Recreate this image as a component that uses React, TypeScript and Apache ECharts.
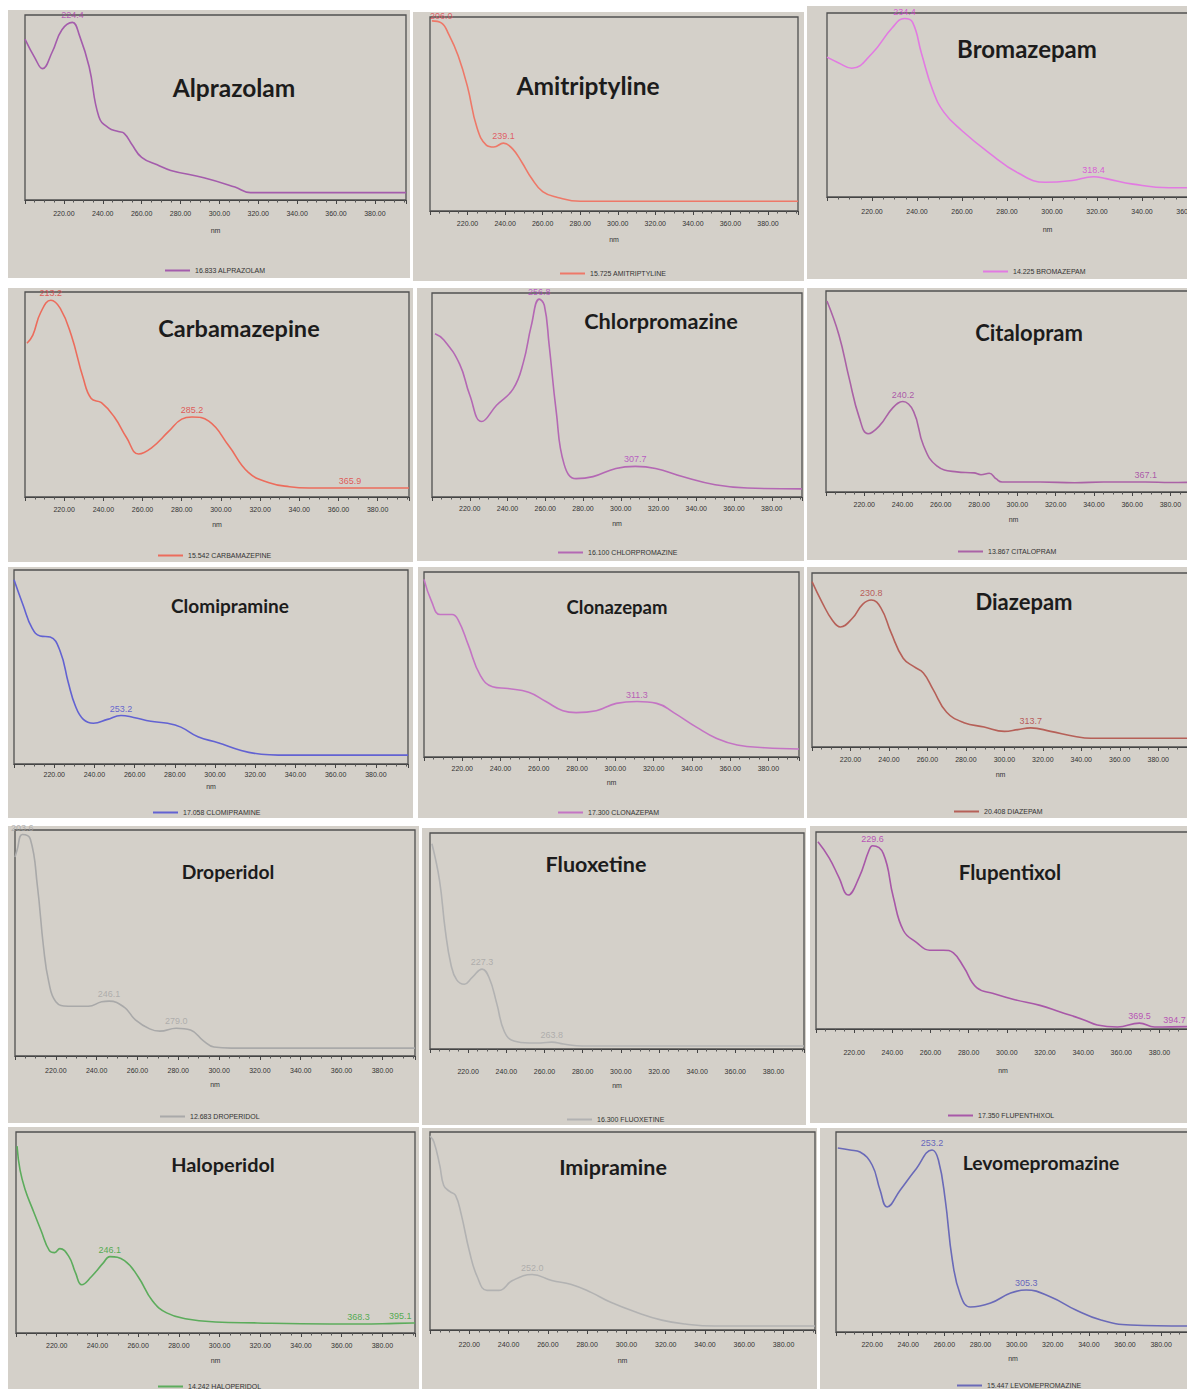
import React, { useEffect, useRef } from "react";
import * as echarts from "echarts";

// ---------- data: [wavelength nm, relative absorbance 0-100] ----------
const alprazolam = [[200,87],[205,77],[209,71],[214,80],[219,92],[224.4,96],[228,89],[233,72],[238,45],[243,39],[248,37],[251,36],[255,30],[260,23],[268,19],[275,16],[292,12],[308,7],[316,4],[320,4],[396,4]];
const amitriptyline = [[201,98],[206,97],[210,91],[215,80],[220,64],[225,43],[230,34],[234,33],[239.1,35],[244,32],[249,25],[254,17],[260,10],[268,7],[280,5],[290,5],[396,5]];
const bromazepam = [[200,76],[205,73],[211,70],[220,78],[229,92],[234.4,97],[238,95],[242,78],[247,58],[252,46],[260,36],[272,24],[285,13],[297,8],[309,9],[318.4,11],[324,10],[336,7],[352,5],[360,5],[396,4]];
const carbamazepine = [[201,75],[204,79],[208,90],[213.2,96],[218,92],[223.6,79],[229.7,58],[233.8,48],[239,46],[245.6,39],[251.8,29],[258,21],[264.6,24],[273.3,32],[280,38],[285.2,39],[293.8,37],[304,25],[314,12],[324.6,7],[335,5],[345,4.4],[365.9,4.4],[396,4.4]];
const chlorpromazine = [[201.6,80],[206.3,77],[214.7,65],[220,50],[226.3,37],[234.2,45],[243,53],[248.4,66],[252.6,84],[256.8,97],[259.5,94],[262,75],[265.8,42],[270,16],[276.3,9],[285.3,10],[297.4,14],[307.7,15],[318.4,14],[332.6,10],[350,6],[367,4.4],[396,4]];
const citalopram = [[200.5,95],[206.8,78],[212,57],[217.4,37],[222,29],[228,33],[235,42],[240.2,45],[245.8,40],[251,23],[257.9,13],[268.4,10],[277.4,9.5],[281,8.6],[285.3,9.3],[289,6.5],[292,5],[312,5],[330,4.6],[345,5],[367.1,5],[380,4.7],[396,5]];
const clomipramine = [[200,95],[204.5,82],[209,70],[213,66],[218,65.5],[223,58],[227,42],[230.5,30],[234.5,23],[239.5,21],[246.5,23],[253.2,25],[259.5,24],[268,22],[276.5,21],[283,19],[291.5,14],[301.5,11],[313,7],[323,5],[331.5,4.6],[396,4.6]];
const clonazepam = [[200,96],[204,84],[208.4,77],[214.7,77],[217.9,74],[223,61],[229.5,44],[235.8,38],[244,37],[254.7,35],[263.7,30],[272.6,25],[279.5,24],[290,25],[300.5,29],[311.3,30],[321.6,29],[330.5,24],[342.6,16],[353,10],[363.7,6.5],[378,5],[396,4.3]];
const diazepam = [[200,95],[205.3,83],[210.5,73],[214.7,69],[221,74],[226.3,82],[230.8,84.5],[235.8,80],[241,66],[247.4,51],[253.2,46],[257.9,42.5],[263,33],[270,20],[279,14],[289.5,11.5],[300,9],[307,10],[313.7,11],[324,9],[336.8,6],[345,5],[396,5]];
const droperidol = [[200,88],[201,91],[203.6,98],[207.5,96],[211,75],[214,48],[216.5,33],[220,24],[226,22],[236,22],[242.5,24],[246.1,24.3],[253.5,21.6],[259,16],[266,12],[271,11],[279,12.3],[286,11.5],[292.5,6.6],[297.5,4],[306,3.5],[396,3.5]];
const fluoxetine = [[201,95],[205,78],[208,55],[211,39],[214,32],[218,30],[222,33],[227.3,37],[231,33],[235,21],[239,8],[244,3.7],[252,2.8],[258,2.8],[263.8,3.2],[270,2.3],[280,1.4],[396,1.4]];
const flupentixol = [[201,95],[206.8,87],[212,77],[216.8,68],[222.6,77],[227.9,91],[229.6,93],[235.3,89],[240.5,67],[245.8,50],[252.6,44],[259.5,40],[266.8,40],[272,38.6],[277.4,31.5],[284.2,21],[293,18],[303.7,15],[317.4,12],[328,8.6],[340.5,4.6],[347.4,2],[358,1],[369.5,3],[377.4,1],[394.7,1.2],[396,1.2]];
const haloperidol = [[200.5,93],[202,81],[204.6,71],[208,62],[212.3,51],[216.4,41],[219,40],[221.5,42],[226,38],[229.2,30],[232.3,24],[237,28],[243,35],[246.1,38],[253.3,36],[260,28],[267,16],[274,10],[284,7],[298,5.5],[318.5,5],[340,4.6],[368.3,4.5],[380,4.6],[395.1,5],[396,5]];
const imipramine = [[200,98],[202,95],[205,83],[207,73],[210,70],[213,68],[216,58],[220,40],[224,27],[229,20],[235,20],[242,25],[252,28],[262,25],[272,23],[282,19],[292,14],[305,9],[318,5],[330,3],[345,2],[396,2]];
const levomepromazine = [[201,92],[207.8,91],[213.3,90],[220,83.5],[224.4,71],[228.3,62.5],[235.6,71],[243.9,81],[253.2,91],[256.7,86],[260.5,66],[264.4,36],[268.9,18.5],[274.4,12.5],[285.6,14.5],[296.7,19.5],[305.3,21],[318.9,17.5],[332.8,11],[346.7,6],[363,3.5],[396,3]];

// peaks marked on each spectrum
const alprazolamPeaks = [[224.4,96]];
const amitriptylinePeaks = [[206.0,97],[239.1,35]];
const bromazepamPeaks = [[234.4,97],[318.4,11]];
const carbamazepinePeaks = [[213.2,96],[285.2,39],[365.9,4.4]];
const chlorpromazinePeaks = [[256.8,97],[307.7,15]];
const citalopramPeaks = [[240.2,45],[367.1,5]];
const clomipraminePeaks = [[253.2,25]];
const clonazepamPeaks = [[311.3,30]];
const diazepamPeaks = [[230.8,84.5],[313.7,11]];
const droperidolPeaks = [[203.6,98],[246.1,24.3],[279.0,12.3]];
const fluoxetinePeaks = [[227.3,37],[263.8,3.2]];
const flupentixolPeaks = [[229.6,93],[369.5,3],[394.7,1.2]];
const haloperidolPeaks = [[246.1,38],[368.3,4.5],[395.1,5]];
const imipraminePeaks = [[252.0,28]];
const levomepromazinePeaks = [[253.2,91],[305.3,21]];

const titles = ["Alprazolam","Amitriptyline","Bromazepam","Carbamazepine","Chlorpromazine","Citalopram","Clomipramine","Clonazepam","Diazepam","Droperidol","Fluoxetine","Flupentixol","Haloperidol","Imipramine","Levomepromazine"];
const legendNames = ["16.833 ALPRAZOLAM","15.725 AMITRIPTYLINE","14.225 BROMAZEPAM","15.542 CARBAMAZEPINE","16.100 CHLORPROMAZINE","13.867 CITALOPRAM","17.058 CLOMIPRAMINE","17.300 CLONAZEPAM","20.408 DIAZEPAM","12.683 DROPERIDOL","16.300 FLUOXETINE","17.350 FLUPENTHIXOL","14.242 HALOPERIDOL","15.133 IMIPRAMINE","15.447 LEVOMEPROMAZINE"];
const spectra = [alprazolam,amitriptyline,bromazepam,carbamazepine,chlorpromazine,citalopram,clomipramine,clonazepam,diazepam,droperidol,fluoxetine,flupentixol,haloperidol,imipramine,levomepromazine];
const peaks = [alprazolamPeaks,amitriptylinePeaks,bromazepamPeaks,carbamazepinePeaks,chlorpromazinePeaks,citalopramPeaks,clomipraminePeaks,clonazepamPeaks,diazepamPeaks,droperidolPeaks,fluoxetinePeaks,flupentixolPeaks,haloperidolPeaks,imipraminePeaks,levomepromazinePeaks];

const lineColors = ["#a45cac","#ee7868","#e27ae2","#ec6c5c","#b468b4","#aa62a6","#6262d2","#c474c4","#b66058","#a9a9a9","#b2b2b2","#a858a8","#5cac5c","#b2b2b2","#6a6ab8"];
const labelColors = ["#b03cb0","#e2404c","#d840d8","#e03a3a","#b040c0","#a03aa0","#4848d0","#b040b0","#b03c3c","#a4a4a4","#a4a4a4","#b030b0","#30a030","#a4a4a4","#4848b8"];

// ---------- layout (pixels) ----------
const W = 1187;
const layout = [
  { box: [8,10,402,268], grid: [25,15,381,185], title: [234,87,24.5], legend: [165,267], xl: [10,27] },
  { box: [413,12,391,269], grid: [430,17,368,194], title: [588,85,24.5], legend: [560,270], xl: [9,25] },
  { box: [807,6,380,273], grid: [827,13,441,184], title: [1027,48,24], legend: [983,268], xl: [11,29] },
  { box: [8,288,405,274], grid: [25,292,384,205], title: [239,328,23.5], legend: [158,552], xl: [9,24] },
  { box: [417,288,387,273], grid: [432,293,370,204], title: [661,321,21.7], legend: [558,549], xl: [8,23] },
  { box: [807,288,380,272], grid: [826,291,375,201], title: [1029,332,22], legend: [958,548], xl: [9,24] },
  { box: [8,567,405,251], grid: [14,570,394,194], title: [230,605,19], legend: [153,809], xl: [7,19] },
  { box: [418,567,386,251], grid: [424,572,375,185], title: [617,607,18.5], legend: [558,809], xl: [8,22] },
  { box: [807,567,380,251], grid: [812,573,377,174], title: [1024,601,22], legend: [954,808], xl: [9,24] },
  { box: [8,826,411,297], grid: [15,830,400,226], title: [228,871,19.3], legend: [160,1113], xl: [11,25] },
  { box: [422,828,384,297], grid: [430,833,374,216], title: [596,864,21.5], legend: [567,1116], xl: [19,33] },
  { box: [810,826,377,297], grid: [816,832,374,197], title: [1010,872,20.5], legend: [948,1112], xl: [20,38] },
  { box: [8,1127,411,262], grid: [16,1132,399,201], title: [223,1164,19.9], legend: [158,1383], xl: [9,24] },
  { box: [422,1128,395,261], grid: [430,1132,385,198], title: [613,1167,21.5], legend: null, xl: [11,27] },
  { box: [820,1128,367,261], grid: [836,1132,354,200], title: [1041,1162,19.3], legend: [957,1382], xl: [9,23] },
];

const PANEL_BG = "#d4d0c9";

function buildOption() {
  const grid: any[] = [];
  const xAxis: any[] = [];
  const yAxis: any[] = [];
  const series: any[] = [];
  const legend: any[] = [];
  const elements: any[] = [];

  layout.forEach((L, i) => {
    const [bx, by, bw, bh] = L.box;
    elements.push({ type: "rect", z: -100, shape: { x: bx, y: by, width: bw, height: bh }, style: { fill: PANEL_BG } });
    elements.push({
      type: "text", z: 100, x: L.title[0], y: L.title[1],
      style: { text: titles[i], font: `bold ${L.title[2]}px Lato`, fill: "#1c1c1c", textAlign: "center", textVerticalAlign: "middle" },
    });
    const [gl, gt, gw, gh] = L.grid;
    grid.push({
      left: gl, top: gt, right: W - (gl + gw), height: gh,
      outerBoundsMode: "none", containLabel: false,
      show: true, borderColor: "#505050", borderWidth: 1.3, backgroundColor: "transparent",
    });
    xAxis.push({
      gridIndex: i, type: "value", min: 200, max: 396, interval: 20,
      axisLine: { show: true, lineStyle: { color: "#444", width: 1.2 } },
      axisTick: { show: true, length: 4, lineStyle: { color: "#444" } },
      minorTick: { show: true, splitNumber: 4, length: 2.5, lineStyle: { color: "#555" } },
      splitLine: { show: false },
      axisLabel: {
        fontSize: 7, color: "#333", fontFamily: "Liberation Sans", margin: L.xl[0],
        formatter: (v: number) => (v % 20 === 0 && v > 200 ? v.toFixed(2) : ""),
      },
      name: "nm", nameLocation: "middle", nameGap: L.xl[1],
      nameTextStyle: { fontSize: 7, color: "#333", fontFamily: "Liberation Sans" },
    });
    yAxis.push({ gridIndex: i, type: "value", min: 0, max: 100, show: false });
    series.push({
      type: "line", name: legendNames[i], xAxisIndex: i, yAxisIndex: i,
      data: spectra[i], smooth: 0.45, showSymbol: false, symbol: "none",
      lineStyle: { color: lineColors[i], width: 1.6 }, itemStyle: { color: lineColors[i] },
    });
    series.push({
      type: "scatter", name: "peaks-" + i, xAxisIndex: i, yAxisIndex: i,
      data: peaks[i].map((p) => (p[0] > 392 ? { value: p, label: { offset: [-13, 0] } } : { value: p })),
      symbolSize: 1, itemStyle: { color: "rgba(0,0,0,0)" },
      label: {
        show: true, position: "top", distance: 2, fontSize: 9, color: labelColors[i], fontFamily: "Liberation Sans",
        formatter: (p: any) => Number(p.value[0]).toFixed(1),
      },
      z: 5,
    });
    if (L.legend) {
      legend.push({
        data: [legendNames[i]], left: L.legend[0], top: L.legend[1], padding: 0,
        icon: "rect", itemWidth: 25, itemHeight: 2, itemGap: 4,
        textStyle: { fontSize: 7, color: "#333", fontFamily: "Liberation Sans" },
        selectedMode: false,
      });
    }
  });

  return {
    animation: false,
    backgroundColor: "#ffffff",
    grid, xAxis, yAxis, series, legend,
    graphic: { elements },
  };
}

export default function App() {
  const ref = useRef<HTMLDivElement>(null);
  useEffect(() => {
    if (!ref.current) return;
    const chart = echarts.init(ref.current, undefined, { renderer: "svg" });
    chart.setOption(buildOption() as any);
    return () => chart.dispose();
  }, []);
  return (
    <div
      ref={ref}
      style={{ position: "absolute", left: 0, top: 0, width: W, height: 1389, overflow: "hidden" }}
    />
  );
}
